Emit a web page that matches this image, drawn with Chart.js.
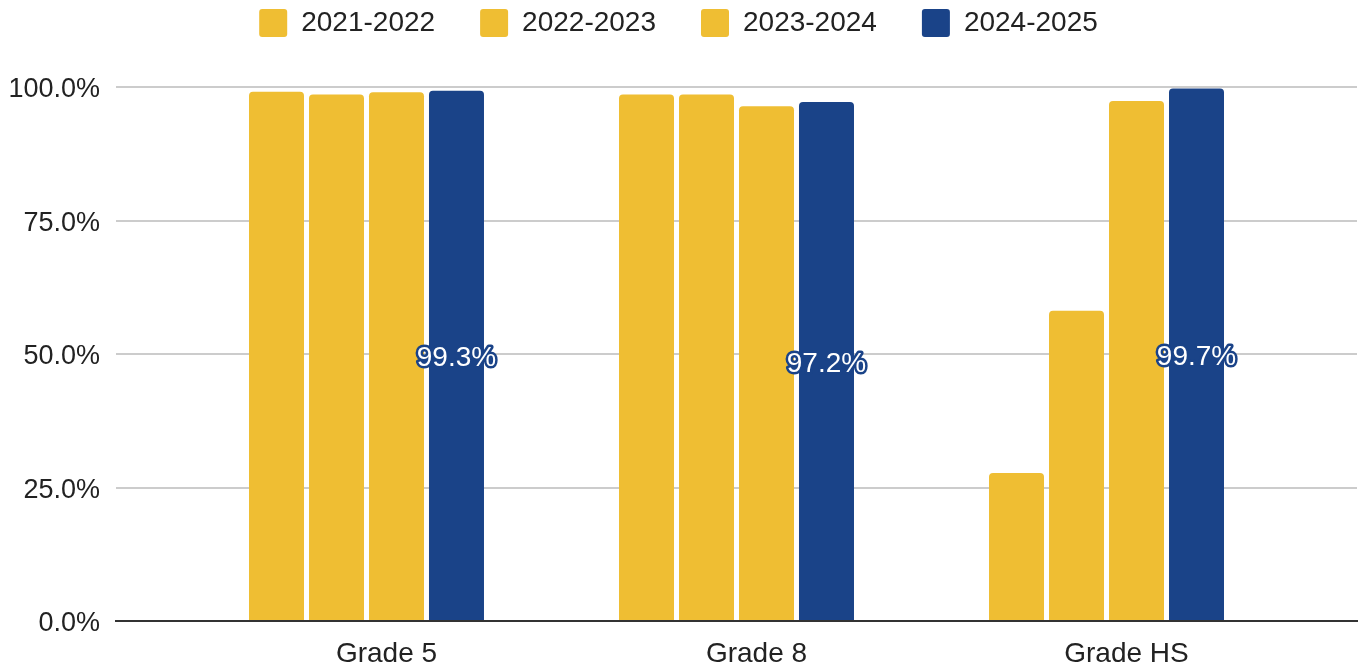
<!DOCTYPE html>
<html>
<head>
<meta charset="utf-8">
<script src="https://cdn.jsdelivr.net/npm/chart.js@4/dist/chart.umd.min.js"></script>
<style>
  html, body { margin: 0; padding: 0; background: #fff; }
  #wrap { width: 1364px; height: 666px; }
</style>
</head>
<body>
<div id="wrap"><canvas id="chart" width="1364" height="666"></canvas></div>
<script>
"use strict";
// values
var grades = ["Grade 5", "Grade 8", "Grade HS"];
var years = ["2021-2022", "2022-2023", "2023-2024", "2024-2025"];
var y2122 = [99.1, 98.6, 27.7];
var y2223 = [98.6, 98.6, 58.1];
var y2324 = [99.0, 96.4, 97.4];
var y2425 = [99.3, 97.2, 99.7];
var yTicks = [0, 25, 50, 75, 100];

var yellow = "#efbe33";
var navy = "#1a4388";
var font = "'Liberation Sans', Arial, sans-serif";

// labels in the middle of the last series' bars, white with navy halo
var barLabels = {
    id: "barLabels",
    afterDatasetsDraw: function(chart) {
        var ctx = chart.ctx;
        var meta = chart.getDatasetMeta(3);
        ctx.save();
        ctx.font = "28px " + font;
        ctx.textAlign = "center";
        ctx.textBaseline = "middle";
        ctx.lineJoin = "round";
        meta.data.forEach(function(bar, i) {
            var txt = y2425[i].toFixed(1) + "%";
            var y = (bar.y + bar.base) / 2 + 3;
            ctx.lineWidth = 5;
            ctx.strokeStyle = navy;
            ctx.strokeText(txt, bar.x, y);
            ctx.fillStyle = "#fff";
            ctx.fillText(txt, bar.x, y);
        });
        ctx.restore();
    }
};

// more room under the legend
var legendGap = {
    id: "legendGap",
    beforeInit: function(chart) {
        var fit = chart.legend.fit;
        chart.legend.fit = function() {
            fit.bind(chart.legend)();
            this.height += 40;
        };
    }
};

var t = new Chart(document.getElementById("chart").getContext("2d"), {
    type: "bar",
    data: {
        labels: grades,
        datasets: [
            { label: years[0], data: y2122, backgroundColor: yellow },
            { label: years[1], data: y2223, backgroundColor: yellow },
            { label: years[2], data: y2324, backgroundColor: yellow },
            { label: years[3], data: y2425, backgroundColor: navy }
        ]
    },
    options: {
        responsive: false,
        animation: false,
        layout: { padding: { top: -36, right: 7, left: 0, bottom: 0 } },
        datasets: {
            bar: {
                categoryPercentage: 0.6486,
                barPercentage: 0.9167,
                borderRadius: { topLeft: 4, topRight: 4 },
                borderSkipped: "start"
            }
        },
        scales: {
            x: {
                afterBuildTicks: function(s) {
                    // groups sit 250px in from each end of the plot
                    s._startValue = -0.677;
                    s._valueRange = 3.354;
                },
                afterFit: function(s) { s.height = 45; },
                grid: { display: false, drawTicks: false },
                border: { display: true, color: "#333", width: 2 },
                ticks: {
                    color: "#222",
                    font: { family: font, size: 28 },
                    padding: 16,
                    labelOffset: 20,
                    maxRotation: 0
                }
            },
            y: {
                min: 0,
                max: 100,
                afterBuildTicks: function(s) {
                    s.ticks = yTicks.map(function(v) { return { value: v }; });
                },
                afterFit: function(s) { s.width = 116; },
                grid: {
                    drawTicks: false,
                    lineWidth: 2,
                    color: function(c) { return c.tick && c.tick.value === 0 ? "#333" : "#cccccc"; }
                },
                border: { display: false },
                ticks: {
                    color: "#222",
                    font: { family: font, size: 27 },
                    padding: 16,
                    labelOffset: 3,
                    callback: function(v) { return v.toFixed(1) + "%"; }
                }
            }
        },
        plugins: {
            tooltip: { enabled: false },
            legend: {
                position: "top",
                labels: {
                    boxWidth: 28,
                    boxHeight: 28,
                    padding: 45,
                    useBorderRadius: true,
                    borderRadius: 3,
                    color: "#222",
                    font: { family: font, size: 28 }
                }
            }
        }
    },
    plugins: [barLabels, legendGap]
});
</script>
</body>
</html>
